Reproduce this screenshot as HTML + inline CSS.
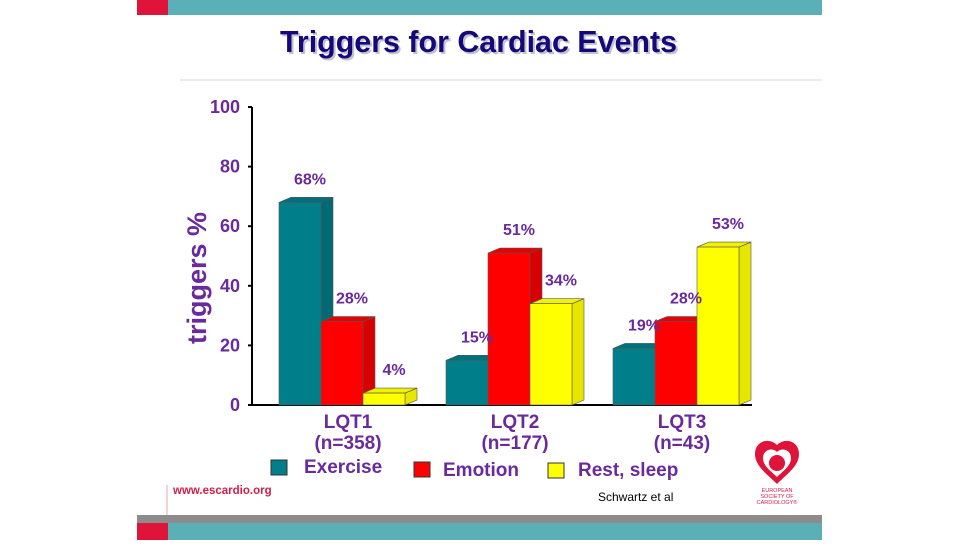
<!DOCTYPE html>
<html><head><meta charset="utf-8"><style>
html,body{margin:0;padding:0;background:#fff;}
body{width:960px;height:540px;position:relative;overflow:hidden;font-family:"Liberation Sans",sans-serif;}
</style></head><body>
<svg width="960" height="540" viewBox="0 0 960 540" xmlns="http://www.w3.org/2000/svg" id="svg" style="font-family:'Liberation Sans',sans-serif">
<rect x="137" y="0" width="685" height="15" fill="#5bb0b8"/>
<rect x="137" y="0" width="31" height="15" fill="#e0133a"/>
<text x="282" y="54" font-size="31" font-weight="bold" fill="#9a9ab0" opacity="0.6" textLength="397" lengthAdjust="spacingAndGlyphs">Triggers for Cardiac Events</text>
<text x="280" y="52" font-size="31" font-weight="bold" fill="#14087a" textLength="397" lengthAdjust="spacingAndGlyphs">Triggers for Cardiac Events</text>
<line x1="180" y1="80" x2="822" y2="80" stroke="#e4e8ec" stroke-width="1.5"/>
<text transform="translate(206,278) rotate(-90)" text-anchor="middle" font-size="27" font-weight="bold" fill="#6b2a9c">triggers %</text>
<g id="plot"></g>
<g>
<rect x="271" y="460" width="16" height="15" fill="#007f8a" stroke="#333" stroke-width="1"/>
<text x="304" y="473" font-size="19" font-weight="bold" fill="#6b2a9c">Exercise</text>
<rect x="414" y="462" width="16" height="15" fill="#ff0000" stroke="#333" stroke-width="1"/>
<text x="443" y="476" font-size="19" font-weight="bold" fill="#6b2a9c">Emotion</text>
<rect x="548" y="463" width="16" height="15" fill="#ffff00" stroke="#333" stroke-width="1"/>
<text x="578" y="476" font-size="19" font-weight="bold" fill="#6b2a9c">Rest, sleep</text>
</g>
<line x1="167" y1="485" x2="167" y2="515" stroke="#f4a0b0" stroke-width="1"/>
<text x="173" y="494" font-size="11.5" font-weight="bold" fill="#d0204a">www.escardio.org</text>
<text x="598" y="501" font-size="12" fill="#000">Schwartz et al</text>
<g>
<path d="M777,445 c-8,-8 -22,-4 -22,9 c0,12 12,20 22,30 c10,-10 22,-18 22,-30 c0,-13 -14,-17 -22,-9z" fill="#e0133a"/>
<path d="M777,452 c-5,-5 -14,-2 -14,6 c0,8 8,13 14,19 c6,-6 14,-11 14,-19 c0,-8 -9,-11 -14,-6z" fill="#fff"/>
<circle cx="777" cy="463" r="8" fill="#e0133a"/>
<text x="777" y="492" text-anchor="middle" font-size="5.5" fill="#d0204a">EUROPEAN</text>
<text x="777" y="498" text-anchor="middle" font-size="5.5" fill="#d0204a">SOCIETY OF</text>
<text x="777" y="504" text-anchor="middle" font-size="5.5" fill="#d0204a">CARDIOLOGY®</text>
</g>
<rect x="137" y="515" width="685" height="8" fill="#8c8c8c"/>
<rect x="137" y="523" width="685" height="17" fill="#5bb0b8"/>
<rect x="137" y="523" width="31" height="17" fill="#e0133a"/>
</svg>
<script>
const categories = ["LQT1","LQT2","LQT3"];
const sampleSizes = ["(n=358)","(n=177)","(n=43)"];
const seriesNames = ["Exercise","Emotion","Rest, sleep"];
const exercise = [68, 15, 19];
const emotion = [28, 51, 28];
const restSleep = [4, 34, 53];
const yTicks = [0, 20, 40, 60, 80, 100];

const NS = "http://www.w3.org/2000/svg";
const plot = document.getElementById('plot');
const y0 = 405, y100 = 107;
function yScale(v){ return y0 - (v/100)*(y0-y100); }
const groupStart = 279, groupStep = 167, barW = 42, dx = 12, dy = 5;
function xScale(ci, si){ return groupStart + ci*groupStep + si*barW; }
const series = [exercise, emotion, restSleep];
const fronts = ["#007f8a","#ff0000","#ffff00"];
const sides = ["#006a74","#d80000","#e6e600"];
const tops = ["#00707a","#e80000","#f2f200"];
function mk(tag, attrs){ const e=document.createElementNS(NS,tag); for(const k in attrs) e.setAttribute(k,attrs[k]); plot.appendChild(e); return e; }

const ya = mk('line',{x1:252,y1:y100,x2:252,y2:y0,stroke:'#000','stroke-width':2});


const xa = mk('line',{x1:252,y1:y0,x2:752,y2:y0,stroke:'#000','stroke-width':2});


yTicks.forEach(t=>{
  const y=yScale(t);
  const tk = mk('line',{x1:248,y1:y,x2:252,y2:y,stroke:'#000','stroke-width':2});
  
  
  const lb = mk('text',{x:240,y:y+6,'text-anchor':'end','font-size':18,'font-weight':'bold',fill:'#6b2a9c'});
  lb.textContent = t;
  
  
});
categories.forEach((c,ci)=>{
  const cx = xScale(ci,0) + 1.5*barW + dx/2;
  const l1 = mk('text',{x:cx,y:428,'text-anchor':'middle','font-size':19,'font-weight':'bold',fill:'#6b2a9c'});
  l1.textContent = c;
  
  
  const l2 = mk('text',{x:cx,y:449,'text-anchor':'middle','font-size':19,'font-weight':'bold',fill:'#6b2a9c'});
  l2.textContent = sampleSizes[ci];
  
  
  series.forEach((s,si)=>{
    const x = xScale(ci,si), yt = yScale(s[ci]);
    const g = document.createElementNS(NS,'g'); plot.appendChild(g);
    
    
    const side = document.createElementNS(NS,'polygon');
    side.setAttribute('points',`${x+barW},${y0} ${x+barW},${yt} ${x+barW+dx},${yt-dy} ${x+barW+dx},${y0-dy}`);
    side.setAttribute('fill',sides[si]); side.setAttribute('stroke','#555'); side.setAttribute('stroke-width','0.6');
    g.appendChild(side);
    const top = document.createElementNS(NS,'polygon');
    top.setAttribute('points',`${x},${yt} ${x+dx},${yt-dy} ${x+barW+dx},${yt-dy} ${x+barW},${yt}`);
    top.setAttribute('fill',tops[si]); top.setAttribute('stroke','#555'); top.setAttribute('stroke-width','0.6');
    g.appendChild(top);
    const fr = document.createElementNS(NS,'rect');
    fr.setAttribute('x',x); fr.setAttribute('y',yt); fr.setAttribute('width',barW); fr.setAttribute('height',y0-yt);
    fr.setAttribute('fill',fronts[si]); fr.setAttribute('stroke','#555'); fr.setAttribute('stroke-width','0.6');
    g.appendChild(fr);
  });
});
categories.forEach((c,ci)=>{
  series.forEach((s,si)=>{
    const x = xScale(ci,si), yt = yScale(s[ci]);
    const t = mk('text',{x:x+barW/2+10,y:yt-18,'text-anchor':'middle','font-size':16,'font-weight':'bold',fill:'#6b2a9c'});
    t.textContent = s[ci]+'%';
    
    
  });
});
</script>
</body></html>
